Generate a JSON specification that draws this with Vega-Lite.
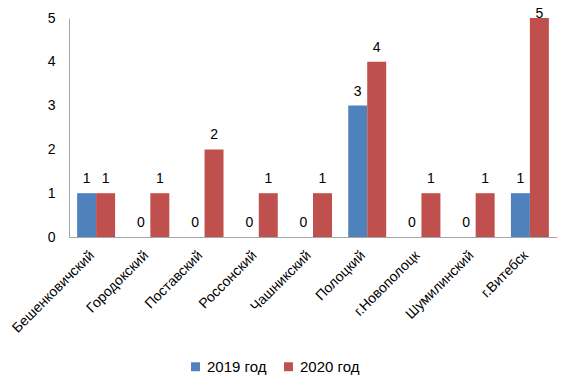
{
  "$schema": "https://vega.github.io/schema/vega-lite/v6.json",
  "autosize": "none",
  "padding": {"left": 69, "top": 18, "right": 18, "bottom": 155},
  "width": 488,
  "height": 219,
  "background": "white",
  "config": {"view": {"stroke": null}, "font": "Liberation Sans"},
  "data": {"values": [
    {"district": "Бешенковичский", "year": "2019 год", "value": 1},
    {"district": "Бешенковичский", "year": "2020 год", "value": 1},
    {"district": "Городокский", "year": "2019 год", "value": 0},
    {"district": "Городокский", "year": "2020 год", "value": 1},
    {"district": "Поставский", "year": "2019 год", "value": 0},
    {"district": "Поставский", "year": "2020 год", "value": 2},
    {"district": "Россонский", "year": "2019 год", "value": 0},
    {"district": "Россонский", "year": "2020 год", "value": 1},
    {"district": "Чашникский", "year": "2019 год", "value": 0},
    {"district": "Чашникский", "year": "2020 год", "value": 1},
    {"district": "Полоцкий", "year": "2019 год", "value": 3},
    {"district": "Полоцкий", "year": "2020 год", "value": 4},
    {"district": "г.Новополоцк", "year": "2019 год", "value": 0},
    {"district": "г.Новополоцк", "year": "2020 год", "value": 1},
    {"district": "Шумилинский", "year": "2019 год", "value": 0},
    {"district": "Шумилинский", "year": "2020 год", "value": 1},
    {"district": "г.Витебск", "year": "2019 год", "value": 1},
    {"district": "г.Витебск", "year": "2020 год", "value": 5}
  ]},
  "encoding": {
    "x": {
      "field": "district", "type": "nominal", "sort": null,
      "scale": {"paddingInner": 0.3, "paddingOuter": 0.15},
      "axis": {"title": null, "labelAngle": -45, "labelAlign": "right", "labelBaseline": "middle",
               "labelFontSize": 14, "labelColor": "#000000", "labelPadding": 16, "labelOffset": -4,
               "ticks": false, "domainColor": "#A6A6A6", "domainWidth": 1}
    },
    "xOffset": {"field": "year", "type": "nominal", "scale": {"paddingInner": 0}},
    "y": {
      "field": "value", "type": "quantitative",
      "scale": {"domain": [0, 5], "nice": false},
      "axis": {"title": null, "values": [0,1,2,3,4,5], "labelOverlap": false, "grid": false, "ticks": false,
               "labelFontSize": 14, "labelColor": "#000000", "labelPadding": 14,
               "domainColor": "#A6A6A6", "domainWidth": 1}
    }
  },
  "layer": [
    {
      "mark": {"type": "bar"},
      "encoding": {
        "color": {
          "field": "year", "type": "nominal",
          "scale": {"domain": ["2019 год", "2020 год"], "range": ["#4F81BD", "#C0504D"]},
          "legend": {"title": null, "orient": "none", "direction": "horizontal",
                     "legendX": 119, "legendY": 341, "symbolType": "square", "symbolSize": 80,
                     "labelFontSize": 15, "labelColor": "#000000", "columnPadding": 14, "symbolStrokeWidth": 0}
        }
      }
    },
    {
      "transform": [{"filter": "datum.value < 5"}],
      "mark": {"type": "text", "dy": -10, "fontSize": 14, "color": "#000000", "baseline": "alphabetic"},
      "encoding": {"text": {"field": "value", "type": "quantitative"}}
    },
    {
      "transform": [{"filter": "datum.value >= 5"}],
      "mark": {"type": "text", "dy": 0, "fontSize": 14, "color": "#000000", "baseline": "alphabetic"},
      "encoding": {"text": {"field": "value", "type": "quantitative"}}
    }
  ]
}
